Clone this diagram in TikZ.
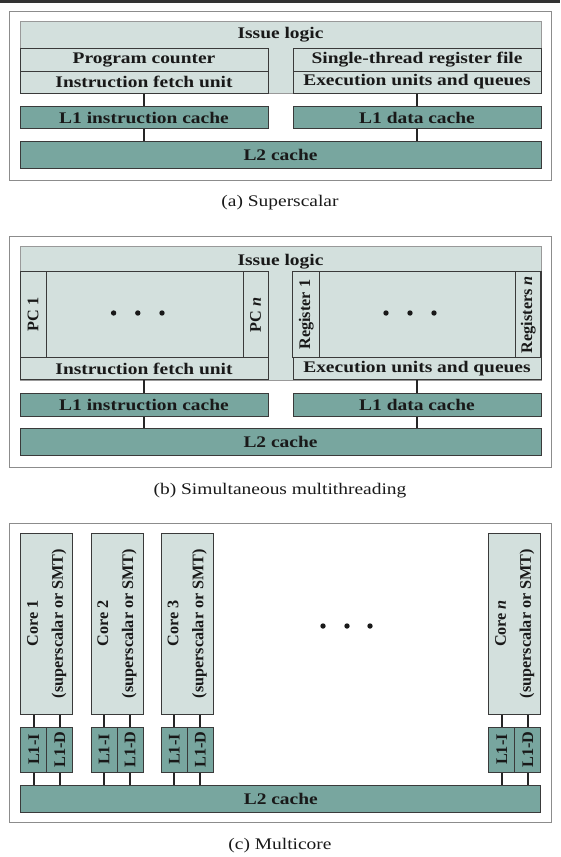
\documentclass[tikz,border=0pt]{standalone}
\usepackage{fontspec}
\setmainfont{Liberation Serif}[FakeStretch=1.2]
\newfontfamily\plainserif{Liberation Serif}
\definecolor{cellgreen}{HTML}{D3E0DD}
\definecolor{cachegreen}{HTML}{78A69F}
\definecolor{edgegray}{HTML}{3A3A3A}
\definecolor{framegray}{HTML}{8C8C8C}
\newcommand{\boxfont}{\fontsize{16.2}{19}\selectfont\bfseries}
\newcommand{\vboxfont}{\plainserif\fontsize{16.2}{25}\selectfont\bfseries}
\newcommand{\capfont}{\fontsize{16.2}{19}\selectfont}

\begin{document}
\begin{tikzpicture}[x=1pt,y=-1pt]
  \tikzstyle{frame}=[draw=framegray, line width=0.9pt, fill=white, inner sep=0pt]
  \tikzstyle{issue}=[draw=black!40, line width=0.8pt, fill=cellgreen, inner sep=0pt]
  \tikzstyle{unit}=[draw=edgegray, line width=1pt, fill=cellgreen, inner sep=0pt, text=black!90, font=\boxfont]
  \tikzstyle{cache}=[draw=edgegray, line width=1pt, fill=cachegreen, inner sep=0pt, text=black!90, font=\boxfont]
  \tikzstyle{vunit}=[unit, rotate=90, font=\vboxfont, align=center]
  \tikzstyle{vcache}=[cache, rotate=90, font=\vboxfont]
  \tikzstyle{lbl}=[inner sep=0pt, text=black!90, font=\boxfont]
  \tikzstyle{caption}=[inner sep=0pt, text=black!90, font=\capfont]
  \tikzstyle{dot}=[circle, fill=black!90, inner sep=0pt, minimum size=5.4pt]
  \tikzstyle{link}=[draw=black!85, line width=1.9pt]
  \useasboundingbox (0,0) rectangle (560,857);
  \fill[black!80] (0,0) rectangle (560,3);

  % (a) superscalar
  \node[frame, minimum width=542, minimum height=169] (frameA) at (280,95.5) {};
  \node[issue, minimum width=521, minimum height=72] (issueA) at (280.5,57) {};
  \node[lbl] (issueAtxt) at (280.5,35) {Issue logic};
  \node[unit, minimum width=248, minimum height=23] (pcA) at (144,59.5) {Program counter};
  \node[unit, minimum width=248, minimum height=22] (ifuA) at (144,82) {Instruction fetch unit};
  \node[unit, minimum width=248, minimum height=23] (regA) at (417,59.5) {Single-thread register file};
  \node[unit, minimum width=248, minimum height=22] (exuA) at (417,82) {Execution units and queues};
  \node[cache, minimum width=248, minimum height=21.6] (l1iA) at (144,117.5) {L1 instruction cache};
  \node[cache, minimum width=248, minimum height=21.6] (l1dA) at (417,117.5) {L1 data cache};
  \node[cache, minimum width=521, minimum height=26.6] (l2A) at (280.5,155) {L2 cache};
  \draw[link] (ifuA) -- (l1iA);
  \draw[link] (exuA) -- (l1dA);
  \draw[link] (l1iA.south) -- (l1iA.south |- l2A.north);
  \draw[link] (l1dA.south) -- (l1dA.south |- l2A.north);
  \node[caption] (capA) at (280,203) {(a) Superscalar};

  % (b) simultaneous multithreading
  \node[frame, minimum width=542, minimum height=231] (frameB) at (280,351.5) {};
  \node[issue, minimum width=521, minimum height=133.3] (issueB) at (280.5,313.3) {};
  \node[lbl] (issueBtxt) at (280.5,262) {Issue logic};
  \node[unit, minimum width=248, minimum height=86] (pcsB) at (144,314.7) {};
  \node[vunit, minimum width=86, minimum height=26.4] (pc1B) at (33.2,314.7) {PC 1};
  \node[vunit, minimum width=86, minimum height=25] (pcnB) at (255.5,314.7) {PC \textit{n}};
  \node[unit, minimum width=248, minimum height=22.3] (ifuB) at (144,368.8) {Instruction fetch unit};
  \node[unit, minimum width=248, minimum height=86] (regsB) at (417,314.7) {};
  \node[vunit, minimum width=86, minimum height=26.5] (reg1B) at (306.2,314.7) {Register 1};
  \node[vunit, minimum width=86, minimum height=25.5] (regnB) at (528.2,314.7) {Registers \textit{n}};
  \node[unit, minimum width=248, minimum height=22.3] (exuB) at (417,368.8) {Execution units and queues};
  \node[dot] (dotB1) at (113.6,313) {};
  \node[dot] (dotB2) at (137.8,313) {};
  \node[dot] (dotB3) at (162,313) {};
  \node[dot] (dotB4) at (386,313) {};
  \node[dot] (dotB5) at (410,313) {};
  \node[dot] (dotB6) at (434,313) {};
  \node[cache, minimum width=248, minimum height=23] (l1iB) at (144,404.5) {L1 instruction cache};
  \node[cache, minimum width=248, minimum height=23] (l1dB) at (417,404.5) {L1 data cache};
  \node[cache, minimum width=521, minimum height=26.7] (l2B) at (280.5,442.3) {L2 cache};
  \draw[link] (ifuB) -- (l1iB);
  \draw[link] (exuB) -- (l1dB);
  \draw[link] (l1iB.south) -- (l1iB.south |- l2B.north);
  \draw[link] (l1dB.south) -- (l1dB.south |- l2B.north);
  \node[caption] (capB) at (280,491) {(b) Simultaneous multithreading};

  % (c) multicore
  \node[frame, minimum width=542, minimum height=299] (frameC) at (280,672.5) {};
  \node[vunit, minimum width=181, minimum height=52] (core1) at (46.7,623.5) {Core 1\\(superscalar or SMT)};
  \node[vunit, minimum width=181, minimum height=52] (core2) at (117,623.5) {Core 2\\(superscalar or SMT)};
  \node[vunit, minimum width=181, minimum height=52] (core3) at (187.3,623.5) {Core 3\\(superscalar or SMT)};
  \node[vunit, minimum width=181, minimum height=52] (coren) at (514.8,623.5) {Core \textit{n}\\(superscalar or SMT)};
  \node[vcache, minimum width=45, minimum height=26] (l1i1) at (33.7,749.5) {L1-I};
  \node[vcache, minimum width=45, minimum height=26] (l1d1) at (59.7,749.5) {L1-D};
  \node[vcache, minimum width=45, minimum height=26] (l1i2) at (104,749.5) {L1-I};
  \node[vcache, minimum width=45, minimum height=26] (l1d2) at (130,749.5) {L1-D};
  \node[vcache, minimum width=45, minimum height=26] (l1i3) at (174.3,749.5) {L1-I};
  \node[vcache, minimum width=45, minimum height=26] (l1d3) at (200.3,749.5) {L1-D};
  \node[vcache, minimum width=45, minimum height=26] (l1in) at (501.8,749.5) {L1-I};
  \node[vcache, minimum width=45, minimum height=26] (l1dn) at (527.8,749.5) {L1-D};
  \node[cache, minimum width=520.3, minimum height=27] (l2C) at (280.8,798.5) {L2 cache};
  \node[dot] (dotC1) at (323,626) {};
  \node[dot] (dotC2) at (347,626) {};
  \node[dot] (dotC3) at (370,626) {};

  \draw[link] (l1i1.east) -- (l1i1.east |- core1.west);
  \draw[link] (l1d1.east) -- (l1d1.east |- core1.west);
  \draw[link] (l1i2.east) -- (l1i2.east |- core2.west);
  \draw[link] (l1d2.east) -- (l1d2.east |- core2.west);
  \draw[link] (l1i3.east) -- (l1i3.east |- core3.west);
  \draw[link] (l1d3.east) -- (l1d3.east |- core3.west);
  \draw[link] (l1in.east) -- (l1in.east |- coren.west);
  \draw[link] (l1dn.east) -- (l1dn.east |- coren.west);

  \draw[link] (l1i1.west) -- (l1i1.west |- l2C.north);
  \draw[link] (l1d1.west) -- (l1d1.west |- l2C.north);
  \draw[link] (l1i2.west) -- (l1i2.west |- l2C.north);
  \draw[link] (l1d2.west) -- (l1d2.west |- l2C.north);
  \draw[link] (l1i3.west) -- (l1i3.west |- l2C.north);
  \draw[link] (l1d3.west) -- (l1d3.west |- l2C.north);
  \draw[link] (l1in.west) -- (l1in.west |- l2C.north);
  \draw[link] (l1dn.west) -- (l1dn.west |- l2C.north);
  \node[caption] (capC) at (280,846) {(c) Multicore};
\end{tikzpicture}
\end{document}
